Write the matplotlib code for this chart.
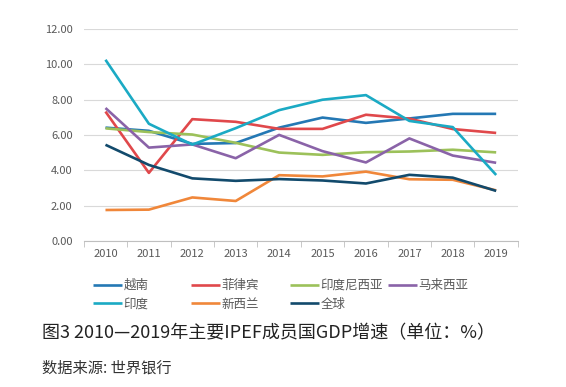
import numpy as np
import matplotlib.pyplot as plt
from matplotlib.lines import Line2D

plt.rcParams['font.family'] = ['Noto Sans CJK SC', 'DejaVu Sans']

years = [2010, 2011, 2012, 2013, 2014, 2015, 2016, 2017, 2018, 2019]
vietnam = [6.42, 6.24, 5.50, 5.55, 6.42, 6.99, 6.69, 6.94, 7.20, 7.20]
philippines = [7.33, 3.86, 6.90, 6.75, 6.35, 6.35, 7.15, 6.93, 6.34, 6.12]
indonesia = [6.38, 6.17, 6.03, 5.56, 5.01, 4.88, 5.03, 5.07, 5.17, 5.02]
malaysia = [7.53, 5.29, 5.47, 4.69, 6.01, 5.09, 4.45, 5.81, 4.84, 4.43]
india = [10.26, 6.64, 5.46, 6.39, 7.41, 8.00, 8.26, 6.80, 6.45, 3.74]
new_zealand = [1.76, 1.78, 2.47, 2.27, 3.73, 3.66, 3.93, 3.50, 3.47, 2.87]
world = [5.45, 4.31, 3.55, 3.41, 3.51, 3.43, 3.26, 3.75, 3.59, 2.84]

names = ["越南", "菲律宾", "印度尼西亚", "马来西亚", "印度", "新西兰", "全球"]
series = [vietnam, philippines, indonesia, malaysia, india, new_zealand, world]
colors = ["#2478B4", "#E0484B", "#9CC15A", "#8A63A8", "#1BAAC4", "#F0873A", "#124A6C"]

fig = plt.figure(figsize=[5.66, 3.87], dpi=100)
ax = fig.add_axes([0.148, 0.377, 0.767, 0.548])

lines = []
for y, name, c in zip(series, names, colors):
    ln, = ax.plot(years, y, color=c, linewidth=1.9, label=name, solid_capstyle='butt')
    lines.append(ln)

ax.set_xlim(2009.5, 2019.5)
ax.set_ylim(0, 12)
ax.set_yticks(np.arange(0, 12.1, 2))
ax.set_yticklabels(["%.2f" % v for v in np.arange(0, 12.1, 2)])
ax.set_xticks(years)
ax.set_xticks(np.arange(2009.5, 2020, 1), minor=True)
ax.tick_params(axis='x', which='major', length=0, labelsize=8, colors='#595959', pad=6)
ax.tick_params(axis='x', which='minor', length=4, color='#BFBFBF', direction='out')
ax.tick_params(axis='y', length=0, labelsize=8, colors='#595959', pad=8)
ax.grid(axis='y', color='#D9D9D9', linewidth=0.8)
ax.set_axisbelow(True)
for s in ['top', 'right', 'left']:
    ax.spines[s].set_visible(False)
ax.spines['bottom'].set_color('#BFBFBF')

# legend laid out row by row, four equal columns
W, H = 566, 387
col_x = [93, 191, 290, 388]
for i in range(4):
    idx = [j for j in (i, i + 4) if j < len(lines)]
    leg = fig.legend([lines[j] for j in idx], [names[j] for j in idx],
                     loc='upper left', bbox_to_anchor=(col_x[i] / W, 1 - 279 / H),
                     frameon=False, fontsize=9, handlelength=2.3, handletextpad=0.15,
                     borderpad=0, borderaxespad=0, labelspacing=0.45)
    for t in leg.get_texts():
        t.set_color('#595959')

fig.text(0.074, 0.138, "图3 2010—2019年主要IPEF成员国GDP增速（单位：%）", fontsize=13,
         color='#222222', va='center')
fig.text(0.074, 0.05, "数据来源: 世界银行", fontsize=11, color='#333333', va='center')

fig.savefig("out.png", dpi=100)
